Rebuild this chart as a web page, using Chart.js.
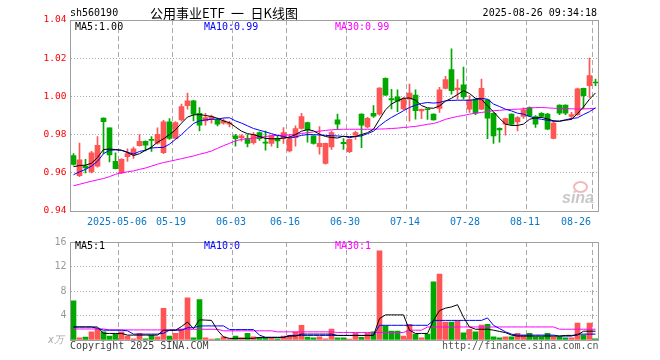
<!DOCTYPE html>
<html>
<head>
<meta charset="utf-8">
<title>sh560190 日K线图</title>
<script src="https://cdn.jsdelivr.net/npm/chart.js@4.4.1/dist/chart.umd.min.js"></script>
<style>
  body { margin: 0; background: #fff; }
  #wrap { position: relative; width: 660px; height: 360px; overflow: hidden; font-family: "DejaVu Sans Mono", monospace; }
  #wrap canvas { position: absolute; left: 0; }
  .t { position: absolute; white-space: nowrap; font-size: 10px; line-height: 12px; }
</style>
</head>
<body>
<div id="wrap">
  <canvas id="kChart" width="660" height="232" style="top:0"></canvas>
  <canvas id="volChart" width="660" height="128" style="top:232px"></canvas>

  <div class="t" style="left:70px;top:7px;color:#000">sh560190</div>
  <div class="t" style="left:150px;top:5px;font:13px/16px 'Noto Sans CJK SC';color:#000">公用事业ETF&ensp;一&ensp;日K线图</div>
  <div class="t" style="right:63px;top:7px;color:#000">2025-08-26 09:34:18</div>

  <div class="t" style="left:75px;top:21px;color:#000">MA5:1.00</div>
  <div class="t" style="left:204px;top:21px;color:#0000ff">MA10:0.99</div>
  <div class="t" style="left:335px;top:21px;color:#ff00ff">MA30:0.99</div>

  <div class="t" style="left:75px;top:240px;color:#000">MA5:1</div>
  <div class="t" style="left:204px;top:240px;color:#0000ff">MA10:0</div>
  <div class="t" style="left:335px;top:240px;color:#ff00ff">MA30:1</div>

  <div class="t" style="left:48px;top:334px;color:#aaa;font-style:italic">x万</div>
  <div class="t" style="left:70px;top:340px;color:#444">Copyright 2025 SINA.COM</div>
  <div class="t" style="left:442px;top:340px;color:#555">http://finance.sina.com.cn</div>

  <div class="t" style="left:573px;top:181px;width:11px;height:8px;border:2px solid #f2b8b8;border-radius:50%"></div>
  <div class="t" style="left:562px;top:190px;font:italic bold 16px/16px 'Liberation Sans';color:#c8c8c8">sina</div>
</div>

<script>
// trading days, 2025-04-21 .. 2025-08-26
const dates = [
    '2025-04-21', '2025-04-22', '2025-04-23', '2025-04-24', '2025-04-25', '2025-04-28', '2025-04-29', '2025-04-30',
    '2025-05-06', '2025-05-07', '2025-05-08', '2025-05-09', '2025-05-12', '2025-05-13', '2025-05-14', '2025-05-15',
    '2025-05-16', '2025-05-19', '2025-05-20', '2025-05-21', '2025-05-22', '2025-05-23', '2025-05-26', '2025-05-27',
    '2025-05-28', '2025-05-29', '2025-05-30', '2025-06-03', '2025-06-04', '2025-06-05', '2025-06-06', '2025-06-09',
    '2025-06-10', '2025-06-11', '2025-06-12', '2025-06-13', '2025-06-16', '2025-06-17', '2025-06-18', '2025-06-19',
    '2025-06-20', '2025-06-23', '2025-06-24', '2025-06-25', '2025-06-26', '2025-06-27', '2025-06-30', '2025-07-01',
    '2025-07-02', '2025-07-03', '2025-07-04', '2025-07-07', '2025-07-08', '2025-07-09', '2025-07-10', '2025-07-11',
    '2025-07-14', '2025-07-15', '2025-07-16', '2025-07-17', '2025-07-18', '2025-07-21', '2025-07-22', '2025-07-23',
    '2025-07-24', '2025-07-25', '2025-07-28', '2025-07-29', '2025-07-30', '2025-07-31', '2025-08-01', '2025-08-04',
    '2025-08-05', '2025-08-06', '2025-08-07', '2025-08-08', '2025-08-11', '2025-08-12', '2025-08-13', '2025-08-14',
    '2025-08-15', '2025-08-18', '2025-08-19', '2025-08-20', '2025-08-21', '2025-08-22', '2025-08-25', '2025-08-26',
];

const open = [
    0.9690, 0.9585, 0.9635, 0.9605, 0.9635, 0.9886, 0.9835, 0.9660, 0.9600, 0.9685, 0.9695, 0.9742, 0.9765, 0.9775, 0.9755, 0.9705,
    0.9867, 0.9780, 0.9877, 0.9951, 0.9977, 0.9912, 0.9872, 0.9881, 0.9877, 0.9860, 0.9855, 0.9793, 0.9784, 0.9779, 0.9758, 0.9811,
    0.9760, 0.9754, 0.9779, 0.9779, 0.9714, 0.9784, 0.9832, 0.9863, 0.9793, 0.9737, 0.9649, 0.9735, 0.9877, 0.9760, 0.9711, 0.9797,
    0.9907, 0.9840, 0.9911, 0.9907, 1.0095, 0.9988, 0.9998, 0.9935, 0.9986, 1.0007, 0.9924, 0.9933, 0.9907, 0.9937, 1.0042, 1.0140,
    1.0035, 1.0060, 0.9933, 0.9986, 0.9933, 0.9982, 0.9912, 0.9833, 0.9854, 0.9907, 0.9867, 0.9895, 0.9942, 0.9895, 0.9912, 0.9907,
    0.9780, 0.9954, 0.9954, 0.9895, 0.9905, 1.0042, 1.0056, 1.0075,
];
const high = [
    0.9700, 0.9756, 0.9670, 0.9712, 0.9790, 0.9888, 0.9836, 0.9705, 0.9675, 0.9725, 0.9735, 0.9800, 0.9768, 0.9790, 0.9835, 0.9875,
    0.9884, 0.9868, 0.9960, 1.0018, 0.9980, 0.9942, 0.9912, 0.9902, 0.9886, 0.9882, 0.9870, 0.9802, 0.9800, 0.9800, 0.9810, 0.9815,
    0.9819, 0.9797, 0.9793, 0.9837, 0.9802, 0.9846, 0.9912, 0.9865, 0.9795, 0.9842, 0.9756, 0.9819, 0.9907, 0.9779, 0.9777, 0.9819,
    0.9909, 0.9890, 0.9952, 1.0046, 1.0097, 1.0037, 1.0035, 0.9995, 1.0064, 1.0035, 0.9934, 0.9933, 0.9909, 1.0047, 1.0105, 1.0249,
    1.0088, 1.0153, 1.0004, 0.9988, 1.0091, 0.9985, 0.9915, 0.9835, 0.9886, 0.9909, 0.9895, 0.9940, 0.9945, 0.9900, 0.9915, 0.9912,
    0.9875, 0.9956, 0.9956, 0.9916, 1.0044, 1.0044, 1.0200, 1.0091,
];
const low = [
    0.9640, 0.9580, 0.9600, 0.9600, 0.9630, 0.9700, 0.9657, 0.9620, 0.9595, 0.9660, 0.9675, 0.9740, 0.9715, 0.9712, 0.9750, 0.9700,
    0.9775, 0.9778, 0.9870, 0.9933, 0.9872, 0.9819, 0.9849, 0.9860, 0.9846, 0.9855, 0.9840, 0.9740, 0.9765, 0.9735, 0.9750, 0.9770,
    0.9719, 0.9740, 0.9732, 0.9754, 0.9709, 0.9740, 0.9828, 0.9761, 0.9750, 0.9697, 0.9645, 0.9723, 0.9828, 0.9723, 0.9706, 0.9775,
    0.9732, 0.9835, 0.9890, 0.9900, 1.0005, 0.9935, 0.9920, 0.9930, 0.9870, 0.9881, 0.9884, 0.9880, 0.9875, 0.9916, 1.0039, 1.0012,
    0.9986, 0.9986, 0.9916, 0.9905, 0.9930, 0.9779, 0.9754, 0.9761, 0.9797, 0.9850, 0.9819, 0.9885, 0.9895, 0.9837, 0.9890, 0.9826,
    0.9777, 0.9905, 0.9905, 0.9880, 0.9900, 0.9937, 0.9995, 1.0056,
];
const close = [
    0.9644, 0.9668, 0.9625, 0.9704, 0.9744, 0.9868, 0.9693, 0.9622, 0.9670, 0.9700, 0.9725, 0.9765, 0.9745, 0.9770, 0.9802, 0.9867,
    0.9780, 0.9863, 0.9947, 0.9977, 0.9907, 0.9849, 0.9889, 0.9895, 0.9854, 0.9872, 0.9863, 0.9779, 0.9793, 0.9754, 0.9802, 0.9779,
    0.9755, 0.9793, 0.9767, 0.9811, 0.9779, 0.9832, 0.9895, 0.9825, 0.9754, 0.9754, 0.9754, 0.9811, 0.9854, 0.9753, 0.9775, 0.9811,
    0.9849, 0.9885, 0.9896, 1.0044, 1.0007, 0.9982, 0.9975, 0.9988, 1.0017, 0.9925, 0.9932, 0.9930, 0.9877, 1.0035, 1.0088, 1.0030,
    1.0044, 0.9997, 0.9982, 0.9912, 1.0042, 0.9886, 0.9793, 0.9825, 0.9884, 0.9854, 0.9889, 0.9930, 0.9898, 0.9854, 0.9895, 0.9828,
    0.9860, 0.9912, 0.9912, 0.9905, 1.0040, 1.0004, 1.0109, 1.0070,
];

// moving averages
const ma5 = [
    0.9632, 0.9638, 0.9640, 0.9650, 0.9680, 0.9722, 0.9724, 0.9722, 0.9718, 0.9706, 0.9690, 0.9700, 0.9718, 0.9735, 0.9760, 0.9778,
    0.9800, 0.9825, 0.9860, 0.9892, 0.9903, 0.9905, 0.9900, 0.9895, 0.9885, 0.9872, 0.9862, 0.9840, 0.9818, 0.9805, 0.9800, 0.9790,
    0.9780, 0.9778, 0.9778, 0.9782, 0.9787, 0.9800, 0.9818, 0.9826, 0.9820, 0.9802, 0.9790, 0.9785, 0.9782, 0.9792, 0.9784, 0.9790,
    0.9800, 0.9810, 0.9828, 0.9880, 0.9930, 0.9960, 0.9977, 0.9990, 0.9992, 0.9980, 0.9952, 0.9940, 0.9938, 0.9950, 0.9975, 0.9990,
    1.0010, 1.0030, 1.0015, 0.9990, 0.9985, 0.9950, 0.9920, 0.9885, 0.9855, 0.9848, 0.9848, 0.9855, 0.9880, 0.9888, 0.9890, 0.9882,
    0.9872, 0.9870, 0.9875, 0.9880, 0.9910, 0.9945, 0.9985, 1.0018,
];
const ma10 = [
    0.9590, 0.9605, 0.9618, 0.9635, 0.9660, 0.9700, 0.9718, 0.9720, 0.9718, 0.9708, 0.9698, 0.9712, 0.9718, 0.9730, 0.9732, 0.9733,
    0.9750, 0.9775, 0.9800, 0.9830, 0.9858, 0.9872, 0.9877, 0.9880, 0.9881, 0.9887, 0.9888, 0.9872, 0.9860, 0.9846, 0.9832, 0.9823,
    0.9814, 0.9805, 0.9796, 0.9790, 0.9782, 0.9788, 0.9796, 0.9800, 0.9800, 0.9798, 0.9796, 0.9794, 0.9793, 0.9790, 0.9790, 0.9790,
    0.9793, 0.9805, 0.9818, 0.9846, 0.9870, 0.9890, 0.9907, 0.9925, 0.9942, 0.9954, 0.9963, 0.9968, 0.9965, 0.9968, 0.9977, 0.9979,
    0.9980, 0.9980, 0.9980, 0.9983, 0.9990, 0.9985, 0.9960, 0.9947, 0.9933, 0.9924, 0.9912, 0.9907, 0.9895, 0.9886, 0.9880, 0.9875,
    0.9870, 0.9870, 0.9878, 0.9884, 0.9888, 0.9905, 0.9920, 0.9940,
];
const ma30 = [
    0.9532, 0.9540, 0.9548, 0.9556, 0.9563, 0.9570, 0.9580, 0.9592, 0.9600, 0.9605, 0.9610, 0.9618, 0.9625, 0.9635, 0.9645, 0.9654,
    0.9660, 0.9667, 0.9674, 0.9681, 0.9688, 0.9697, 0.9705, 0.9714, 0.9728, 0.9742, 0.9754, 0.9767, 0.9775, 0.9779, 0.9782, 0.9785,
    0.9790, 0.9794, 0.9796, 0.9797, 0.9798, 0.9802, 0.9806, 0.9810, 0.9814, 0.9818, 0.9822, 0.9825, 0.9827, 0.9828, 0.9828, 0.9828,
    0.9828, 0.9828, 0.9828, 0.9829, 0.9830, 0.9832, 0.9834, 0.9837, 0.9840, 0.9843, 0.9848, 0.9854, 0.9858, 0.9868, 0.9880, 0.9888,
    0.9895, 0.9900, 0.9907, 0.9912, 0.9916, 0.9920, 0.9925, 0.9927, 0.9930, 0.9932, 0.9933, 0.9935, 0.9940, 0.9941, 0.9942, 0.9940,
    0.9938, 0.9937, 0.9936, 0.9935, 0.9934, 0.9934, 0.9936, 0.9938,
];

// volume, in 万
const volume = [
    6.40, 0.37, 0.48, 1.33, 1.80, 1.33, 0.64, 0.96, 1.33, 0.64, 0.21, 1.07, 0.20, 0.75, 0.53, 5.17,
    0.64, 1.07, 1.80, 6.88, 0.37, 6.60, 0.37, 0.16, 0.20, 0.53, 0.20, 0.64, 0.37, 1.07, 0.53, 0.43,
    0.43, 0.43, 0.20, 0.64, 0.75, 1.28, 2.40, 0.48, 0.37, 0.53, 0.20, 1.80, 0.37, 0.37, 0.16, 1.07,
    0.43, 1.07, 1.33, 14.56, 2.30, 1.44, 1.44, 0.64, 2.56, 0.96, 0.37, 0.96, 9.50, 10.77, 2.93, 2.93,
    3.09, 1.17, 1.76, 1.33, 2.45, 2.56, 0.53, 0.37, 0.53, 0.53, 1.07, 0.75, 1.07, 0.53, 0.53, 1.07,
    0.53, 0.53, 0.37, 0.37, 2.77, 0.80, 2.77, 0.21,
];
const volMa5 = [
    2.13, 2.13, 2.13, 2.13, 2.13, 1.07, 1.07, 1.07, 1.07, 0.80, 0.80, 0.80, 0.80, 0.80, 0.80, 1.60,
    1.60, 1.60, 2.20, 2.93, 1.87, 3.30, 3.25, 3.20, 1.60, 0.50, 0.27, 0.27, 0.27, 0.27, 0.27, 0.43,
    0.43, 0.43, 0.43, 0.43, 0.64, 0.64, 0.96, 0.96, 0.96, 0.96, 0.96, 0.96, 0.75, 0.75, 0.75, 0.75,
    0.75, 0.75, 0.75, 3.50, 4.10, 4.10, 4.10, 4.10, 1.60, 1.07, 1.07, 1.07, 3.20, 4.80, 5.20, 5.40,
    5.76, 3.73, 2.13, 1.76, 1.76, 1.76, 1.60, 1.40, 1.20, 0.80, 0.64, 0.64, 0.64, 0.64, 0.64, 0.64,
    0.64, 0.64, 0.75, 0.75, 0.80, 1.44, 1.44, 1.44,
];
const volMa10 = [
    2.13, 2.13, 2.13, 2.13, 1.90, 1.60, 1.60, 1.60, 1.60, 1.50, 0.96, 0.96, 0.96, 0.96, 0.96, 1.10,
    1.60, 1.60, 1.60, 2.00, 2.00, 2.30, 2.30, 2.30, 2.30, 2.30, 1.70, 1.70, 1.70, 1.70, 1.70, 0.80,
    0.43, 0.43, 0.43, 0.43, 0.75, 0.75, 0.75, 0.75, 0.75, 0.75, 0.75, 0.75, 0.75, 0.75, 0.75, 0.75,
    0.75, 0.75, 0.75, 2.40, 2.40, 2.40, 2.40, 2.40, 2.40, 2.40, 2.40, 2.40, 3.20, 3.20, 3.20, 3.20,
    3.20, 3.20, 3.20, 3.20, 3.20, 3.60, 2.40, 1.87, 1.33, 0.96, 0.80, 0.80, 0.80, 0.80, 0.80, 0.80,
    0.80, 0.64, 0.64, 0.64, 0.96, 0.96, 0.96, 0.96,
];
const volMa30 = [
    1.80, 1.80, 1.80, 1.80, 1.80, 1.80, 1.65, 1.65, 1.65, 1.65, 1.65, 1.65, 1.65, 1.65, 1.65, 1.65,
    1.65, 1.65, 1.75, 1.75, 1.75, 1.75, 1.75, 1.75, 1.75, 1.50, 1.50, 1.50, 1.50, 1.50, 1.50, 1.50,
    1.50, 1.50, 1.33, 1.33, 1.33, 1.33, 1.33, 1.33, 1.33, 1.33, 1.33, 1.33, 1.23, 1.23, 1.23, 1.23,
    1.23, 1.23, 1.23, 1.23, 1.23, 1.23, 1.23, 1.23, 1.60, 1.60, 1.60, 2.13, 2.13, 2.13, 2.13, 2.13,
    2.13, 2.13, 2.13, 2.13, 2.13, 2.13, 2.13, 2.13, 2.13, 2.13, 2.13, 2.13, 2.13, 2.13, 2.13, 2.13,
    2.13, 1.76, 1.76, 1.76, 1.76, 1.76, 1.76, 1.76,
];

// x axis ticks shown under the price panel
const axisDates  = ['2025-05-06', '2025-05-19', '2025-06-03', '2025-06-16', '2025-06-30', '2025-07-14', '2025-07-28', '2025-08-11', '2025-08-26'];
const axisLabels = ['2025-05-06', '05-19', '06-03', '06-16', '06-30', '07-14', '07-28', '08-11', '08-26     '];

const RED   = '#ff5555';
const GREEN = '#00a800';
const GRID  = '#aaaaaa';
const FRAME = '#a0a0a0';
const MONO  = 'DejaVu Sans Mono';

const candleColors = close.map((c, i) => c >= open[i] ? RED : GREEN);
const gridIdx = new Set(axisDates.map(d => dates.indexOf(d)));

/**
 * Gray frame round the plot area, drawn after everything else.
 */
const framePlugin = {
    id: 'frame',
    afterDraw(chart) {
        const { ctx, chartArea: a } = chart;
        const l = Math.floor(a.left) + 0.5;
        const t = Math.floor(a.top) + 0.5;
        const r = Math.floor(a.right) + 0.5;
        const b = Math.floor(a.bottom) + 0.5;
        ctx.save();
        ctx.strokeStyle = FRAME;
        ctx.lineWidth = 1;
        ctx.strokeRect(l, t, r - l, b - t);
        ctx.restore();
    },
};

function maLine(data, color) {
    return {
        type: 'line',
        data: data,
        borderColor: color,
        borderWidth: 1,
        pointRadius: 0,
        tension: 0,
        order: 0,
    };
}

function xScale(showLabels) {
    return {
        offset: true,
        grid: {
            offset: true,
            drawTicks: false,
            color: ctx => gridIdx.has(ctx.index) ? GRID : 'rgba(0,0,0,0)',
        },
        border: { display: false, dash: [5, 3] },
        ticks: {
            display: showLabels,
            autoSkip: false,
            maxRotation: 0,
            minRotation: 0,
            padding: 5,
            labelOffset: -4.5,
            color: '#0a78c8',
            font: { family: MONO, size: 10 },
            callback: (v, i) => {
                const k = axisDates.indexOf(dates[i]);
                return k >= 0 ? axisLabels[k] : '';
            },
        },
        afterFit: s => { s.height = showLabels ? 21 : 20; },
    };
}

function yGridColor(ctx) {
    const n = ctx.scale.ticks.length;
    return (ctx.index === 0 || ctx.index === n - 1) ? 'rgba(0,0,0,0)' : GRID;
}

new Chart(document.getElementById('kChart'), {
    type: 'bar',
    data: {
        labels: dates,
        datasets: [
            maLine(ma5, '#000000'),
            maLine(ma10, '#0000ff'),
            maLine(ma30, '#ff00ff'),
            {
                data: open.map((o, i) => [o, close[i]]),
                backgroundColor: candleColors,
                barThickness: 5,
                minBarLength: 1,
                grouped: false,
                order: 1,
            },
            {
                data: low.map((l, i) => [l, high[i]]),
                backgroundColor: candleColors,
                barThickness: 1,
                grouped: false,
                order: 2,
            },
        ],
    },
    options: {
        responsive: false,
        animation: false,
        devicePixelRatio: 1,
        layout: { padding: { top: 20, right: 61.5, left: 0.5, bottom: 0 } },
        plugins: { legend: { display: false }, tooltip: { enabled: false } },
        scales: {
            x: xScale(true),
            y: {
                min: 0.94,
                max: 1.04,
                grid: { drawTicks: false, color: yGridColor },
                border: { display: false, dash: [1, 2] },
                ticks: {
                    stepSize: 0.02,
                    padding: 4,
                    color: '#ff0000',
                    font: { family: MONO, size: 9.5 },
                    callback: v => v.toFixed(2),
                },
                afterFit: s => { s.width = 70; },
            },
        },
    },
    plugins: [framePlugin],
});

new Chart(document.getElementById('volChart'), {
    type: 'bar',
    data: {
        labels: dates,
        datasets: [
            maLine(volMa5, '#000000'),
            maLine(volMa10, '#0000ff'),
            maLine(volMa30, '#ff00ff'),
            {
                data: volume,
                backgroundColor: candleColors,
                barThickness: 5,
                grouped: false,
                order: 1,
            },
        ],
    },
    options: {
        responsive: false,
        animation: false,
        devicePixelRatio: 1,
        layout: { padding: { top: 9, right: 61.5, left: 0.5, bottom: 0 } },
        plugins: { legend: { display: false }, tooltip: { enabled: false } },
        scales: {
            x: xScale(false),
            y: {
                min: 0,
                max: 16,
                grid: { drawTicks: false, color: yGridColor },
                border: { display: false, dash: [1, 2] },
                ticks: {
                    stepSize: 4,
                    padding: 4,
                    color: '#999999',
                    font: { family: MONO, size: 10 },
                    callback: v => v === 0 ? '' : String(v),
                },
                afterFit: s => { s.width = 70; },
            },
        },
    },
    plugins: [framePlugin],
});
</script>
</body>
</html>
